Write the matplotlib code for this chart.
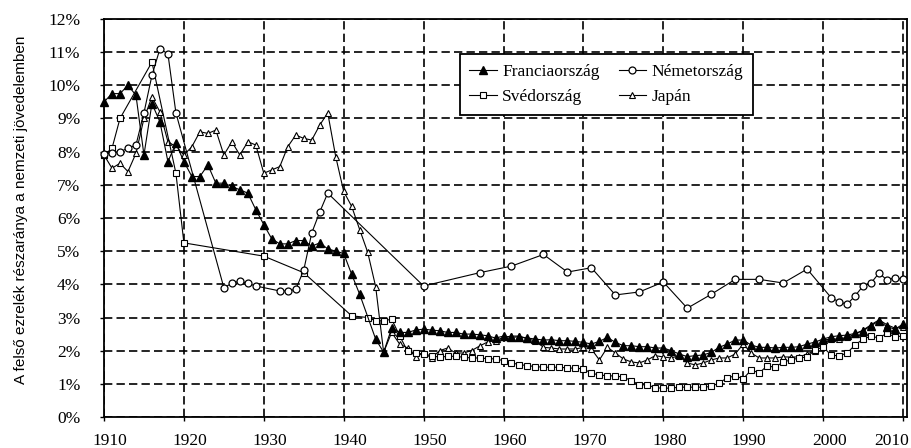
import matplotlib
matplotlib.use("Agg")
import matplotlib.pyplot as plt
import matplotlib.transforms as mtransforms

# ---------------- data (share of top 0.1% in national income, %) ----------------
fr_years = list(range(1910, 1943)) + list(range(1944, 2011))
fr_vals = [9.5, 9.75, 9.75, 10.0, 9.7, 7.9, 9.45, 8.9, 7.7, 8.25,
           7.7, 7.25, 7.25, 7.6, 7.05, 7.05, 6.95, 6.85, 6.75, 6.25,
           5.8, 5.37, 5.22, 5.22, 5.32, 5.32, 5.15, 5.25, 5.07, 5.0,
           4.93, 4.3, 3.7,
           2.35, 1.95, 2.68, 2.55, 2.55, 2.62,
           2.65, 2.62, 2.6, 2.55, 2.55, 2.5, 2.5, 2.48, 2.45, 2.38,
           2.44, 2.4, 2.42, 2.38, 2.35, 2.32, 2.33, 2.3, 2.3, 2.28,
           2.25, 2.2, 2.28, 2.4, 2.25, 2.15, 2.15, 2.12, 2.12, 2.08,
           2.08, 2.0, 1.9, 1.82, 1.85, 1.87, 1.95, 2.1, 2.2, 2.32,
           2.32, 2.17, 2.1, 2.1, 2.08, 2.1, 2.1, 2.12, 2.2, 2.26,
           2.35, 2.42, 2.45, 2.47, 2.52, 2.6, 2.75, 2.9, 2.72, 2.65,
           2.8]

de_years = [1910, 1911, 1912, 1913, 1914, 1915, 1916, 1917, 1918, 1919,
            1925, 1926, 1927, 1928, 1929, 1932, 1933, 1934, 1935, 1936,
            1937, 1938, 1950, 1957, 1961, 1965, 1968, 1971, 1974, 1977,
            1980, 1983, 1986, 1989, 1992, 1995, 1998, 2001, 2002, 2003,
            2004, 2005, 2006, 2007, 2008, 2009, 2010]
de_vals = [7.93, 7.96, 8.0, 8.1, 8.2, 9.17, 10.3, 11.1, 10.95, 9.17,
           3.9, 4.03, 4.1, 4.03, 3.95, 3.8, 3.8, 3.85, 4.43, 5.55,
           6.18, 6.75, 3.95, 4.35, 4.55, 4.9, 4.37, 4.5, 3.68, 3.77,
           4.07, 3.28, 3.7, 4.15, 4.15, 4.04, 4.46, 3.6, 3.47, 3.4,
           3.65, 3.95, 4.04, 4.34, 4.13, 4.2, 4.15]

se_years = [1910, 1911, 1912, 1916, 1919, 1920, 1930, 1935, 1941, 1943,
            1944, 1945] + list(range(1946, 2011))
se_vals = [7.9, 8.1, 9.0, 10.7, 7.35, 5.25, 4.85, 4.35, 3.05, 3.0,
           2.9, 2.9,
           2.95, 2.45, 1.98, 1.93,
           1.9, 1.85, 1.8, 1.83, 1.83, 1.8, 1.78, 1.78, 1.76, 1.75,
           1.7, 1.63, 1.58, 1.55, 1.52, 1.5, 1.5, 1.5, 1.48, 1.47,
           1.45, 1.32, 1.27, 1.24, 1.24, 1.2, 1.1, 0.97, 0.97, 0.88,
           0.87, 0.87, 0.9, 0.9, 0.9, 0.9, 0.92, 1.03, 1.18, 1.24,
           1.15, 1.42, 1.33, 1.54, 1.5, 1.66, 1.72, 1.78, 1.81, 2.02,
           2.11, 1.87, 1.84, 1.93, 2.17, 2.35, 2.44, 2.38, 2.53, 2.41,
           2.45]

jp_years = list(range(1910, 2011))
jp_vals = [7.9, 7.5, 7.65, 7.4, 7.95, 9.0, 9.65, 9.2, 8.3, 8.15,
           7.9, 8.15, 8.6, 8.55, 8.65, 7.9, 8.3, 7.9, 8.3, 8.2,
           7.35, 7.45, 7.55, 8.15, 8.5, 8.4, 8.35, 8.8, 9.17, 7.85,
           6.8, 6.35, 5.65, 4.97, 3.93, 1.95, 2.55, 2.2, 2.08, 1.81,
           1.93, 1.78, 2.0, 2.08, 1.93, 1.93, 2.0, 2.14, 2.26, 2.3,
           2.4, 2.44, 2.44, 2.35, 2.3, 2.1, 2.08, 2.05, 2.05, 2.05,
           2.1, 2.05, 1.72, 2.1, 1.93, 1.75, 1.66, 1.63, 1.72, 1.85,
           1.81, 1.78, 1.85, 1.63, 1.57, 1.63, 1.72, 1.78, 1.78, 1.9,
           2.2, 1.93, 1.78, 1.78, 1.78, 1.81, 1.81, 1.81, 1.9, 2.0,
           2.32, 2.35, 2.35, 2.4, 2.5, 2.62, 2.78, 2.93, 2.78, 2.68,
           2.7]

labels = ["Franciaország", "Németország", "Svédország", "Japán"]
x_ticks = list(range(1910, 2011, 10))
y_ticks = list(range(0, 13))
y_label = "A felső ezrelék részaránya a nemzeti jövedelemben"

# ---------------- figure ----------------
serif = ["Liberation Serif", "DejaVu Serif"]
sans = ["Liberation Sans", "DejaVu Sans"]

fig = plt.figure(figsize=(9.12, 4.48), dpi=100)
ax = fig.add_axes([104 / 912, 1 - 417 / 448, (907 - 104) / 912, (417 - 19) / 448])

line_kw = dict(color="black", lw=0.8, clip_on=False, zorder=3)
h_jp, = ax.plot(jp_years, jp_vals, marker="^", ms=5, mfc="white", mec="black",
                mew=0.8, label=labels[3], **line_kw)
h_se, = ax.plot(se_years, se_vals, marker="s", ms=4.5, mfc="white", mec="black",
                mew=0.8, label=labels[2], **line_kw)
h_de, = ax.plot(de_years, de_vals, marker="o", ms=5, mfc="white", mec="black",
                mew=0.9, label=labels[1], **line_kw)
h_fr, = ax.plot(fr_years, fr_vals, marker="^", ms=6, mfc="black", mec="black",
                label=labels[0], **line_kw)

ax.set_xlim(1910, 2010.5)
ax.set_ylim(0, 12)
ax.set_xticks(x_ticks)
ax.set_yticks(y_ticks)
ax.set_yticklabels([f"{v}%" for v in y_ticks])
ax.set_xticklabels([str(v) for v in x_ticks])
for lab in ax.get_xticklabels() + ax.get_yticklabels():
    lab.set_family(serif)
    lab.set_fontsize(12.5)
ax.tick_params(axis="both", direction="out", length=3, width=1, color="black")
ax.tick_params(axis="x", pad=8.5)
ax.tick_params(axis="y", pad=14)

# x tick labels sit slightly right of the grid lines; the last one is pulled in
xlabs = ax.get_xticklabels()
for i, lab in enumerate(xlabs):
    dx = 6 if i < len(xlabs) - 1 else -11
    lab.set_transform(lab.get_transform() +
                      mtransforms.ScaledTranslation(dx / 100, 0, fig.dpi_scale_trans))

ax.grid(True, color="black", linestyle=(0, (5, 2.5)), linewidth=1.2, zorder=1)
ax.set_axisbelow(True)
for sp in ax.spines.values():
    sp.set_color("black")
    sp.set_linewidth(1.3)

fig.text(21 / 912, 1 - 210 / 448, y_label, rotation=90, ha="center", va="center",
         family=sans, fontsize=11)

leg = ax.legend(handles=[h_fr, h_se, h_de, h_jp], ncol=2, loc="center",
                bbox_to_anchor=(0.443, 0.754, 0.365, 0.163), mode="expand",
                prop={"family": serif, "size": 12.5}, frameon=True,
                fancybox=False, edgecolor="black", framealpha=1,
                handlelength=1.6, handletextpad=0.3, labelspacing=0.55,
                columnspacing=1.0, borderpad=0.55, borderaxespad=0)
leg.get_frame().set_linewidth(1.3)
leg.set_zorder(5)

fig.savefig("out.png", dpi=100, facecolor="white")
